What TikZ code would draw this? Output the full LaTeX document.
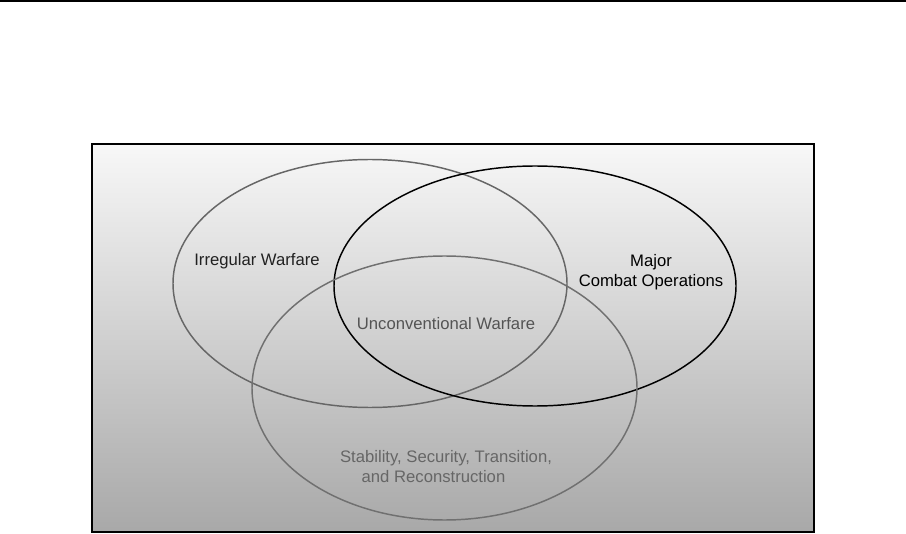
\documentclass[tikz,border=0pt]{standalone}
\usepackage{fontspec}
\setmainfont{Liberation Sans}
\usetikzlibrary{positioning}
\definecolor{ringgray}{HTML}{666666}
\definecolor{sstrgray}{HTML}{707070}
\tikzset{
  lbl/.style={font=\fontsize{12.5}{15}\selectfont, align=center, inner sep=0pt},
  ring/.style={line width=1.1pt}
}
\begin{document}
\begin{tikzpicture}[x=0.75pt,y=-0.75pt]
				%\draw[color=gray,step=10, help lines,opacity=0.3] (0,0) grid (906,534); %help grids
				\useasboundingbox (0,0) rectangle (906,534);
				\draw[line width=1.5pt] (0,1) -- (906,1);
				\shade[top color=black!3, bottom color=black!34] (92,144) rectangle (814,532);
				\draw[line width=1.5pt] (92,144) rectangle (814,532);

				\draw[ring,color=ringgray] (370,283.5) ellipse [x radius=197, y radius=124];
				\draw[ring,color=black] (535,286) ellipse [x radius=201, y radius=120];
				\draw[ring,color=sstrgray] (444.5,388) ellipse [x radius=192.5, y radius=132];

				\node[lbl,text=black!87] (iw) at (257,261) {Irregular Warfare};
				\node[lbl,text=black] (mco) at (651,272) {Major\\Combat Operations};
				\node[lbl,text=black!67] (uw) at (446,324) {Unconventional Warfare};
				\node[lbl,text=black!60] (sstr) at (446,467) {Stability, Security, Transition,\\\hspace*{-1.5em}and Reconstruction};
\end{tikzpicture}
\end{document}
